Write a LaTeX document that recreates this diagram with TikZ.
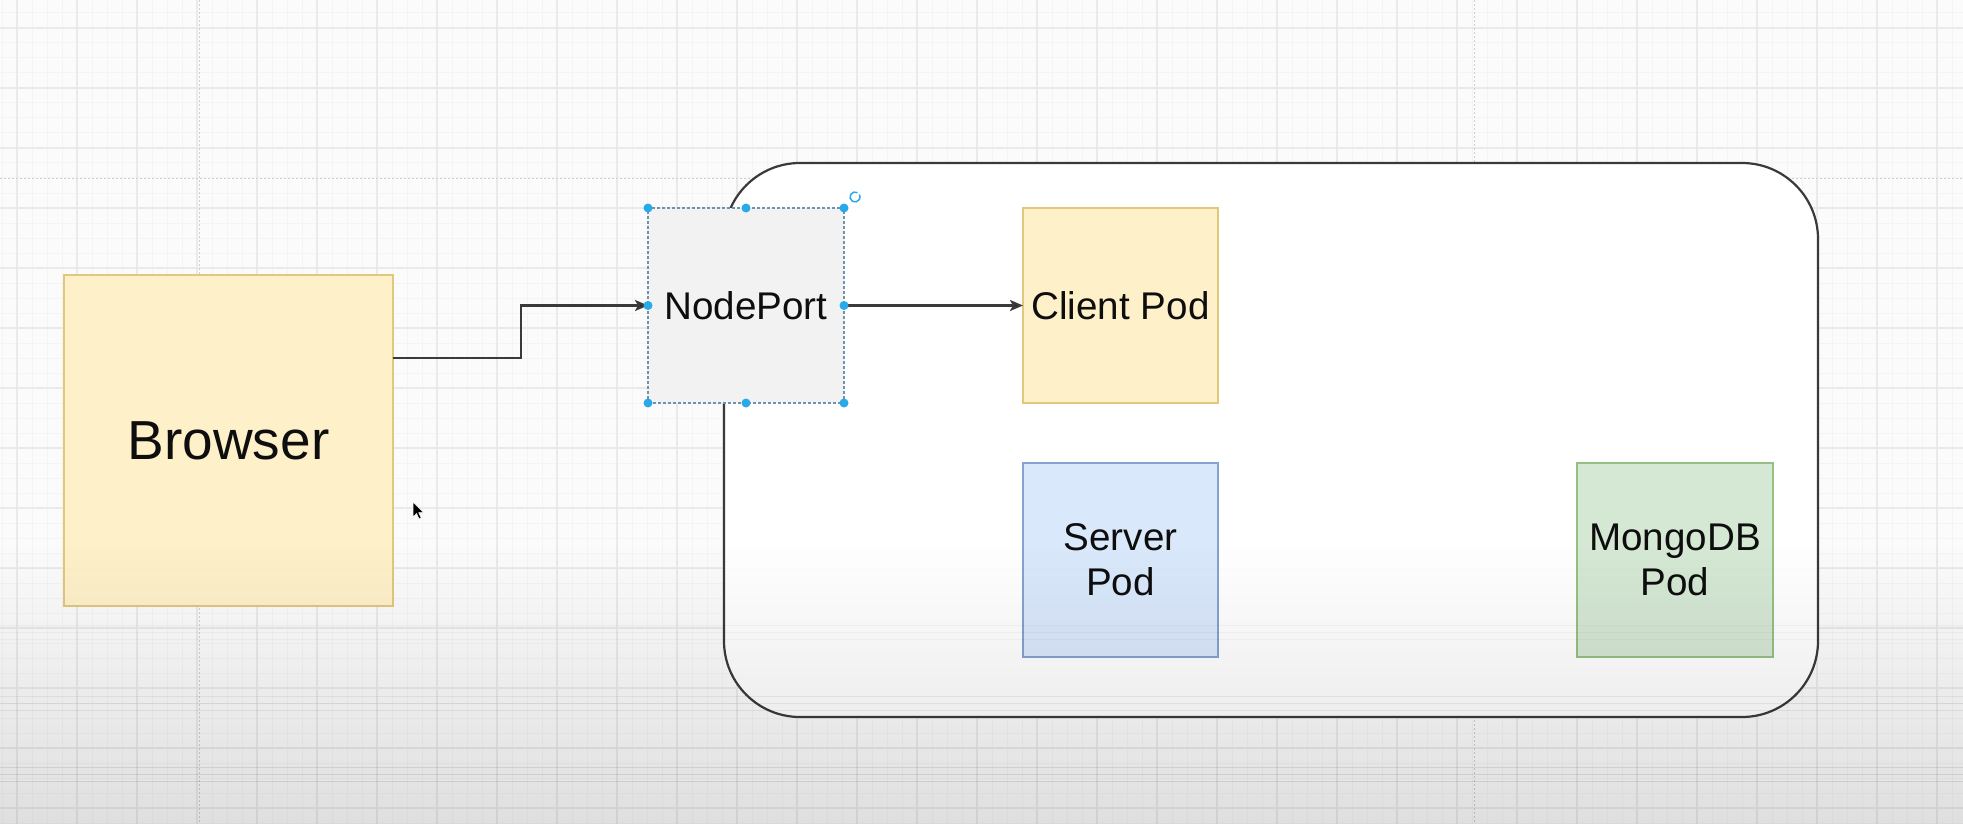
\documentclass[tikz,border=0pt]{standalone}
\usepackage{fontspec}
\setmainfont{Liberation Sans}
\usetikzlibrary{arrows.meta}
\definecolor{bgcol}{HTML}{FBFBFB}
\definecolor{gridminor}{HTML}{F4F4F4}
\definecolor{gridmajor}{HTML}{EAEAEA}
\definecolor{pagedot}{HTML}{CFCFCF}
\definecolor{yfill}{HTML}{FEF0C9}
\definecolor{ystroke}{HTML}{E2C87C}
\definecolor{bfill}{HTML}{DAE8FC}
\definecolor{bstroke}{HTML}{85A3CF}
\definecolor{gfill}{HTML}{D5E8D4}
\definecolor{gstroke}{HTML}{96C083}
\definecolor{npfill}{HTML}{F2F2F2}
\definecolor{selblue}{HTML}{29A9EA}
\definecolor{seldash}{HTML}{6F93AE}
\definecolor{linecol}{HTML}{3A3A3A}
\definecolor{txt}{HTML}{0E0E0E}
\tikzset{
  podbox/.style={draw, line width=1.6pt, minimum width=195pt, minimum height=195pt,
    inner sep=0pt, outer sep=0pt, align=center, text=txt,
    font=\fontsize{38.6}{45}\selectfont},
  conn/.style={draw=linecol, line width=2.3pt,
    -{Stealth[length=13pt, width=11pt, inset=3pt, fill=black]}},
  handle/.style={fill=selblue, draw=none},
  pageline/.style={pagedot, line width=1pt, dash pattern=on 2pt off 2pt},
}
\begin{document}
\begin{tikzpicture}[x=1pt, y=-1pt]
\useasboundingbox (0,0) rectangle (1963,824);
\fill[bgcol] (0,0) rectangle (1963,824);
% grid
\foreach \gx in {2,17,...,1962} \draw[gridminor, line width=1pt] (\gx,0) -- (\gx,824);
\foreach \gy in {13,28,...,823} \draw[gridminor, line width=1pt] (0,\gy) -- (1963,\gy);
\foreach \gx in {17,77,...,1962} \draw[gridmajor, line width=1.2pt] (\gx,0) -- (\gx,824);
\foreach \gy in {28,88,...,823} \draw[gridmajor, line width=1.2pt] (0,\gy) -- (1963,\gy);
% page boundaries
\draw[pageline] (199,0) -- (199,824);
\draw[pageline] (1474,0) -- (1474,824);
\draw[pageline] (0,179) -- (1963,179);
% cluster container
\node[draw=linecol, fill=white, line width=2.2pt, rounded corners=76pt,
  minimum width=1094pt, minimum height=554pt, inner sep=0pt, outer sep=0pt]
  (cluster) at (1271,440) {};
% boxes
\node[podbox, fill=yfill, draw=ystroke, minimum width=329pt, minimum height=331pt,
  font=\fontsize{55}{60}\selectfont] (browser) at (228.5,440.5) {Browser};
\node[podbox, fill=npfill, draw=seldash, line width=1.2pt, dash pattern=on 3pt off 2pt,
  minimum width=196pt] (nodeport) at (746,305.5) {NodePort};
\node[podbox, fill=yfill, draw=ystroke] (client) at (1120.5,305.5) {Client Pod};
\node[podbox, fill=bfill, draw=bstroke, minimum height=194pt] (server) at (1120.5,560) {Server\\Pod};
\node[podbox, fill=gfill, draw=gstroke, minimum width=196pt, minimum height=194pt] (mongo) at (1675,560) {MongoDB\\Pod};
% connectors
\draw[conn] (browser.east |- 0,358) -- ++(128,0) |- (nodeport.west);
\draw[conn] (nodeport.east) -- (client.west);
% selection handles
\foreach \a in {north west,north,north east,west,east,south west,south,south east}
  \fill[handle] (nodeport.\a) circle (4.5pt);
\coordinate (rot) at (855,197);
\draw[selblue, line width=1.5pt] ([shift={(60:5pt)}]rot) arc[start angle=60, end angle=390, radius=5pt];
% video shading overlay
\foreach \i in {0,...,39}
  \fill[black, opacity={0.11*(\i+0.5)/40}] (0,{540+\i*7.1}) rectangle (1963,{540+(\i+1)*7.1+0.3});
% mouse cursor
\coordinate (cur) at (413,502);
\fill[black, draw=white, line width=0.6pt] (cur) -- ++(0,15) -- ++(3.5,-3.5) -- ++(2.5,5.5)
  -- ++(2.2,-1) -- ++(-2.4,-5.3) -- ++(4.9,0) -- cycle;
\end{tikzpicture}
\end{document}
